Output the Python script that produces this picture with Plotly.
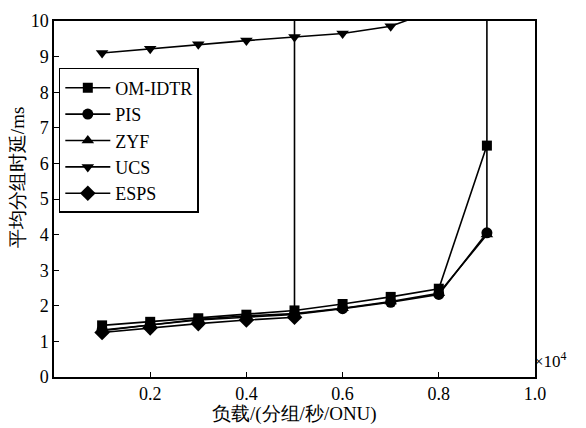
import plotly.graph_objects as go

om_idtr_x = [0.1, 0.2, 0.3, 0.4, 0.5, 0.6, 0.7, 0.8, 0.9]
om_idtr_y = [1.45, 1.55, 1.65, 1.75, 1.87, 2.05, 2.25, 2.48, 6.5]

pis_x = [0.1, 0.2, 0.3, 0.4, 0.5, 0.6, 0.7, 0.8, 0.9]
pis_y = [1.32, 1.47, 1.6, 1.68, 1.76, 1.92, 2.1, 2.32, 4.05]

zyf_x = [0.1, 0.2, 0.3, 0.4, 0.5, 0.6, 0.7, 0.8, 0.9, 0.9]
zyf_y = [1.3, 1.45, 1.62, 1.72, 1.78, 1.93, 2.12, 2.35, 4.0, 12.0]

ucs_x = [0.1, 0.2, 0.3, 0.4, 0.5, 0.6, 0.7, 0.8]
ucs_y = [9.1, 9.22, 9.35, 9.45, 9.55, 9.65, 9.85, 10.35]

esps_x = [0.1, 0.2, 0.3, 0.4, 0.5, 0.5]
esps_y = [1.25, 1.38, 1.5, 1.6, 1.68, 12.0]

x_tick_vals = [0.2, 0.4, 0.6, 0.8, 1.0]
x_tick_text = ["0.2", "0.4", "0.6", "0.8", "1.0"]
y_tick_vals = [0, 1, 2, 3, 4, 5, 6, 7, 8, 9, 10]

x_title = "负载/(分组/秒/ONU)"
y_title = "平均分组时延/ms"

series = [
    ("OM-IDTR", om_idtr_x, om_idtr_y, "square", 10),
    ("PIS", pis_x, pis_y, "circle", 11),
    ("ZYF", zyf_x, zyf_y, "triangle-up", 11),
    ("UCS", ucs_x, ucs_y, "triangle-down", 11),
    ("ESPS", esps_x, esps_y, "diamond", 12),
]

serif = "Liberation Serif, Times New Roman, serif"

fig = go.Figure()
for name, xs, ys, sym, sz in series:
    fig.add_trace(go.Scatter(
        x=xs, y=ys, name=name, mode="lines+markers",
        line=dict(color="black", width=1.6),
        marker=dict(symbol=sym, size=sz, color="black"),
        cliponaxis=True,
    ))

# page body has an 8px margin: the figure starts at (8, 8)
fig.update_layout(
    template="none",
    width=578, height=420,
    margin=dict(l=46, r=51, t=13, b=51, pad=0),
    paper_bgcolor="white", plot_bgcolor="white",
    font=dict(family=serif, size=18, color="#000000"),
    showlegend=True,
    legend=dict(
        x=0.01, y=0.868, xanchor="left", yanchor="top",
        bgcolor="white", bordercolor="black", borderwidth=1.5,
        font=dict(family=serif, size=18, color="#000000"),
        tracegroupgap=0, itemsizing="trace", itemwidth=45,
    ),
    xaxis=dict(
        range=[0, 1.0], tickvals=x_tick_vals, ticktext=x_tick_text,
        ticks="inside", ticklen=5, tickcolor="black", tickwidth=1,
        showline=True, linecolor="black", linewidth=1.5, mirror=True,
        showgrid=False, zeroline=False, automargin=False,
        tickfont=dict(family=serif, size=18, color="#000000"),
    ),
    yaxis=dict(
        range=[0, 10], tickvals=y_tick_vals,
        ticks="inside", ticklen=5, tickcolor="black", tickwidth=1,
        showline=True, linecolor="black", linewidth=1.5, mirror=True,
        showgrid=False, zeroline=False, automargin=False,
        tickfont=dict(family=serif, size=18, color="#000000"),
    ),
)

fig.add_annotation(
    x=0.5, y=0, xref="paper", yref="paper", xanchor="center", yanchor="top",
    text=x_title, showarrow=False, yshift=-24,
    font=dict(family=serif, size=19, color="#000000"),
)
fig.add_annotation(
    x=0, y=0.56, xref="paper", yref="paper", xanchor="right", yanchor="middle",
    text=y_title, showarrow=False, textangle=-90, xshift=-24,
    font=dict(family=serif, size=19, color="#000000"),
)
fig.add_annotation(
    x=1.0, y=0.0, xref="paper", yref="paper", xanchor="left", yanchor="bottom",
    text="×10<sup>4</sup>", showarrow=False, xshift=-3, yshift=4,
    font=dict(family=serif, size=17, color="#000000"),
)

fig.write_html("out.html")
